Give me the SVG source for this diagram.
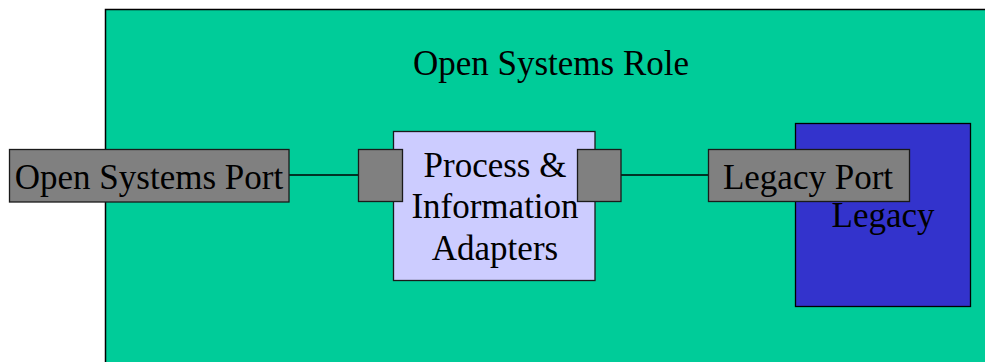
<svg xmlns="http://www.w3.org/2000/svg" width="985" height="362" viewBox="0 0 985 362">
<style>
text{font-family:"Liberation Serif","Times New Roman",serif;font-size:35px;fill:#000;text-anchor:middle}
.port{fill:#808080;stroke:#1a1a1a;stroke-width:1.3}
.conn{stroke:#000;stroke-width:1.3;fill:none}
</style>
<g id="role">
<rect x="105.5" y="9.5" width="890" height="360" fill="#00CC99" stroke="#000" stroke-width="1.5"/>
<text x="551" y="75">Open Systems Role</text>
</g>
<g id="connectors">
<line class="conn" x1="289" y1="175" x2="358" y2="175"/>
<line class="conn" x1="621" y1="175" x2="708" y2="175"/>
</g>
<g id="legacy">
<rect x="795.5" y="123.5" width="175" height="183" fill="#3333CC" stroke="#000" stroke-width="1.3"/>
<text x="883" y="227">Legacy</text>
</g>
<g id="adapters">
<rect x="393.5" y="131.5" width="201.5" height="149" fill="#CCCCFF" stroke="#1a1a1a" stroke-width="1.3"/>
<text x="495" y="177">Process &amp;</text>
<text x="495" y="218">Information</text>
<text x="495" y="260">Adapters</text>
</g>
<g id="adapter-port-left">
<rect class="port" x="358.5" y="149.5" width="44" height="52"/>
</g>
<g id="adapter-port-right">
<rect class="port" x="577.5" y="149.5" width="43.5" height="52"/>
</g>
<g id="open-systems-port">
<rect class="port" x="9.5" y="149.5" width="279.5" height="52.5"/>
<text x="149" y="189">Open Systems Port</text>
</g>
<g id="legacy-port">
<rect class="port" x="708.5" y="149.5" width="201" height="52"/>
<text x="808" y="189">Legacy Port</text>
</g>
</svg>
